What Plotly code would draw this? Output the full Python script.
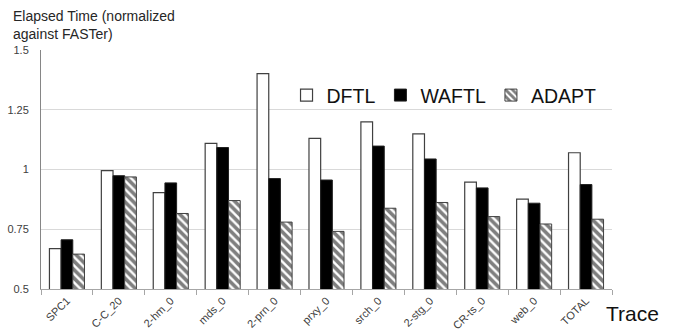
import plotly.graph_objects as go

categories = ["SPC1", "C-C_20", "2-hm_0", "mds_0", "2-prn_0", "prxy_0",
              "srch_0", "2-stg_0", "CR-ts_0", "web_0", "TOTAL"]
dftl = [0.669, 0.995, 0.903, 1.109, 1.401, 1.130, 1.199, 1.149, 0.947, 0.876, 1.070]
waftl = [0.706, 0.974, 0.944, 1.092, 0.962, 0.956, 1.098, 1.044, 0.923, 0.859, 0.937]
adapt = [0.646, 0.969, 0.816, 0.870, 0.780, 0.741, 0.838, 0.862, 0.803, 0.772, 0.792]
y_ticks = [0.5, 0.75, 1, 1.25, 1.5]

FONT = "Liberation Sans, Arial, sans-serif"
W, H = 686, 329
L, R, T, B = 41, 74, 49.5, 39.5
PW, PH = W - L - R, H - T - B


def px_x(x):
    return (x - L) / PW


def px_y(y):
    return (H - B - y) / PH


fig = go.Figure()
fig.add_trace(go.Bar(name="DFTL", x=categories, y=dftl,
                     marker=dict(color="white", line=dict(color="#404040", width=1.2))))
fig.add_trace(go.Bar(name="WAFTL", x=categories, y=waftl,
                     marker=dict(color="black", line=dict(color="#202020", width=1))))
fig.add_trace(go.Bar(name="ADAPT", x=categories, y=adapt,
                     marker=dict(color="white", line=dict(color="#404040", width=1),
                                 pattern=dict(shape="\\", fgcolor="black", bgcolor="white",
                                              size=6, solidity=0.6))))

fig.update_layout(
    width=W, height=H,
    margin=dict(l=L, r=R, t=T, b=B),
    paper_bgcolor="white", plot_bgcolor="white",
    barmode="group", bargap=0.325, bargroupgap=0,
    font=dict(family=FONT, color="#404040", size=11),
    showlegend=True,
    legend=dict(orientation="h", x=0.430, xanchor="left", y=0.81, yanchor="middle",
                font=dict(family=FONT, size=19.5, color="#111111"),
                bgcolor="rgba(0,0,0,0)", itemwidth=30, traceorder="normal"),
    annotations=[
        dict(text="Elapsed Time (normalized<br>against FASTer)", x=px_x(11), y=px_y(5),
             xref="paper", yref="paper", showarrow=False, xanchor="left", yanchor="top",
             align="left", font=dict(family=FONT, size=14, color="#262626")),
        dict(text="Trace", x=px_x(604), y=px_y(314), xref="paper", yref="paper",
             showarrow=False, xanchor="left", yanchor="middle",
             font=dict(family=FONT, size=21, color="#111111")),
    ],
)

fig.update_xaxes(type="category", showline=True, linecolor="#a6a6a6", linewidth=1,
                 ticks="outside", tickson="boundaries", ticklen=5, tickcolor="#a6a6a6",
                 tickangle=-45, automargin=False, showgrid=False,
                 tickfont=dict(family=FONT, size=11, color="#404040"))
fig.update_yaxes(range=[0.5, 1.5], tickvals=y_ticks, ticktext=["0.5", "0.75", "1", "1.25", "1.5"],
                 showgrid=True, gridcolor="#d9d9d9", gridwidth=1, showline=True,
                 linecolor="#868686", linewidth=1, ticks="", zeroline=False, automargin=False,
                 ticklabelstandoff=9,
                 tickfont=dict(family=FONT, size=11, color="#404040"))

fig.write_html("out.html")
